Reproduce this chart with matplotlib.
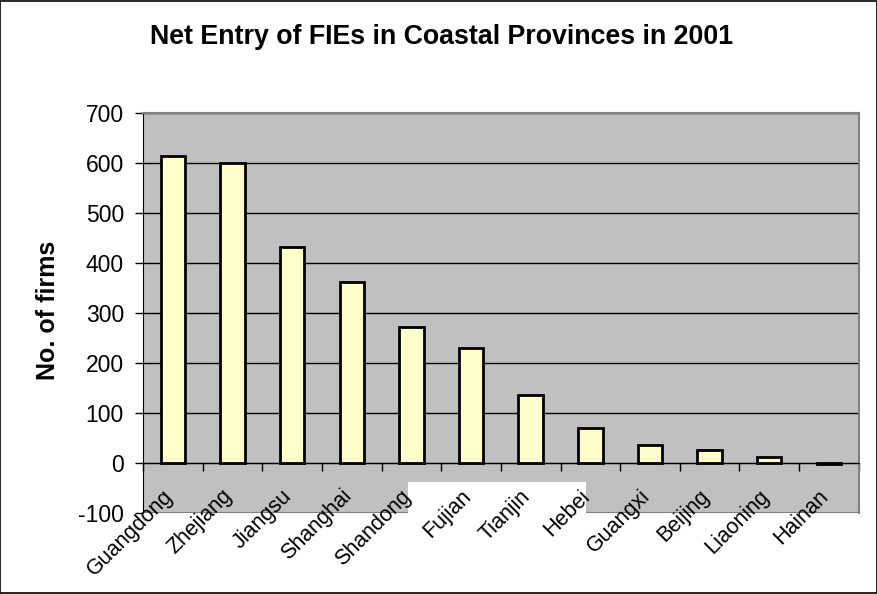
import matplotlib
matplotlib.use("Agg")
import matplotlib.pyplot as plt
from matplotlib.patches import Rectangle
import numpy as np

provinces = ["Guangdong", "Zhejiang", "Jiangsu", "Shanghai", "Shandong", "Fujian",
             "Tianjin", "Hebei", "Guangxi", "Beijing", "Liaoning", "Hainan"]
net_entry = [614, 599, 432, 361, 272, 230, 135, 69, 35, 26, 12, -2]
yticks = [-100, 0, 100, 200, 300, 400, 500, 600, 700]

plt.rcParams['font.family'] = ['Liberation Sans', 'DejaVu Sans']
plt.rcParams['axes.unicode_minus'] = False

fig = plt.figure(figsize=(8.78, 5.94), dpi=100)
fig.patch.set_facecolor('white')
fig.add_artist(Rectangle((0.0005, 0.001), 0.998, 0.997, transform=fig.transFigure,
                         fill=False, edgecolor='black', linewidth=1.2))

ax = fig.add_axes([0.163, 0.137, 0.815, 0.673])
ax.set_facecolor('#C0C0C0')
x = np.arange(len(provinces))
ax.bar(x, net_entry, width=0.41, color='#FFFFCC', edgecolor='black', linewidth=2, zorder=3)

ax.set_xlim(-0.5, len(provinces) - 0.5)
ax.set_ylim(-100, 700)
ax.set_yticks(yticks)
ax.tick_params(axis='y', labelsize=16.5, length=5.8, width=1, direction='out', pad=8)
ax.yaxis.grid(True, color='black', linewidth=1)
ax.set_axisbelow(True)

for s in ['top', 'right']:
    ax.spines[s].set_color('#808080')
    ax.spines[s].set_linewidth(1.5)
ax.spines['left'].set_color('black')
ax.spines['bottom'].set_position(('data', 0))
ax.spines['bottom'].set_color('black')
ax.spines['bottom'].set_zorder(4)
ax.axhline(-100, color='#808080', linewidth=1.5, zorder=1)

ax.set_xticks(x)
ax.set_xticklabels([])
ax.tick_params(axis='x', which='major', length=0)
ax.set_xticks(np.arange(-0.5, len(provinces), 1.0), minor=True)
ax.tick_params(axis='x', which='minor', length=5.8, width=1, direction='out')

# white boxes behind some labels (as in reference)
ax.add_patch(Rectangle((3.94, -101), 2.98, 63, facecolor='white', edgecolor='none',
                       zorder=2, clip_on=False))

for i, name in enumerate(provinces):
    ax.text(i - 0.18, -46, name, rotation=45, ha='right', va='top',
            rotation_mode='anchor', fontsize=15.5, zorder=5, clip_on=False)

fig.text(48 / 878, 1 - 310 / 594, "No. of firms", rotation=90, ha='center', va='center',
         fontsize=18, fontweight='bold')
fig.text(441.5 / 878, 1 - 44 / 594, "Net Entry of FIEs in Coastal Provinces in 2001",
         ha='center', va='baseline', fontsize=19.3, fontweight='bold')

fig.savefig("out.png", dpi=100)
